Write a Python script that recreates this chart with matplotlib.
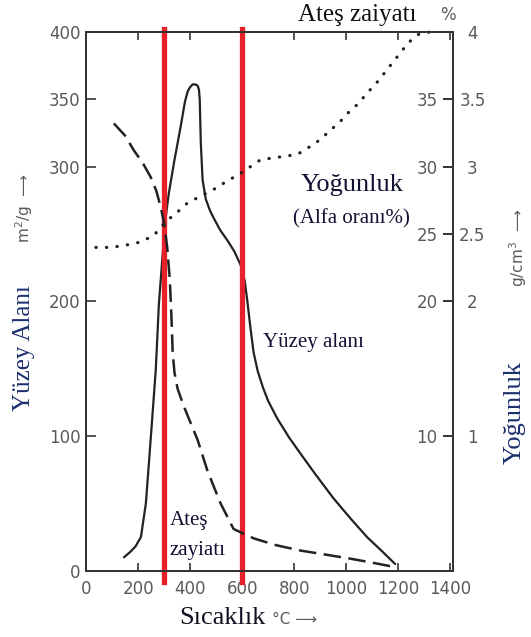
import matplotlib
matplotlib.use("Agg")
import matplotlib.pyplot as plt

# surface area (m2/g) vs temperature
temp_area = [146, 170, 190, 211, 230, 249, 268, 280, 295, 306, 318, 340, 364, 380, 391,
             400, 410, 420, 429, 434, 437, 441, 448, 460, 475, 490, 515, 544, 570, 594,
             610, 620, 632, 644, 660, 680, 700, 735, 780, 824, 880, 950, 1020, 1080, 1140, 1188]
area = [10, 14, 18, 25, 50, 99, 149, 198, 236, 262, 280, 305, 330, 348, 356,
        359, 361, 361, 360, 357, 350, 318, 290, 276, 268, 262, 253, 245, 237, 227,
        215, 200, 180, 162, 148, 136, 126, 113, 99, 87, 72, 54, 38, 25, 14, 5]

# ignition loss (%)
temp_loss = [107, 150, 184, 220, 249, 270, 287, 300, 312, 322, 328, 333, 340, 352, 376,
             395, 429, 467, 517, 567, 645, 730, 824, 920, 1015, 1100, 1180]
loss_pct = [33.2, 32.3, 31.2, 30.2, 29.2, 28.2, 27.0, 25.8, 24.0, 21.6, 19.0, 16.2, 14.7, 13.5, 12.2,
            11.3, 9.7, 7.4, 5.0, 3.1, 2.4, 1.9, 1.5, 1.2, 0.9, 0.6, 0.3]

# density (g/cm3)
temp_dens = [38, 100, 161, 210, 261, 306, 350, 390, 440, 490, 540, 594, 640, 670, 740,
             812, 862, 900, 939, 975, 1008, 1042, 1092, 1125, 1157, 1190, 1218, 1250, 1284, 1329]
density = [2.40, 2.40, 2.42, 2.44, 2.49, 2.59, 2.66, 2.73, 2.78, 2.83, 2.89, 2.95, 3.01, 3.05, 3.07,
           3.09, 3.15, 3.20, 3.27, 3.33, 3.40, 3.46, 3.57, 3.64, 3.72, 3.80, 3.87, 3.94, 3.99, 4.00]

red_temps = [300, 600]

x_ticks = [0, 200, 400, 600, 800, 1000, 1200, 1400]
left_ticks = [0, 100, 200, 300, 350, 400]
right_ticks = [1, 2, 2.5, 3, 3.5, 4]
right_labels = ["1", "2", "2.5", "3", "3.5", "4"]
pct_ticks = [10, 20, 25, 30, 35]

SERIF = "Liberation Serif"
TICKFONT = ["DejaVu Sans Condensed", "DejaVu Sans"]
GRAY = "#5a5a5a"
NAVY = "#1c2f6e"
INK = "#222222"

fig = plt.figure(figsize=(5.31, 6.37), dpi=100)
ax = fig.add_axes([0.162, 0.104, 0.691, 0.846])
ax.set_xlim(0, 1410)
ax.set_ylim(0, 400)

ax.plot(temp_area, area, color=INK, lw=1.6, solid_capstyle="round", solid_joinstyle="round")

ax2 = ax.twinx()
ax2.set_ylim(0, 4)
ax2.plot(temp_dens, density, color=INK, lw=2.3, linestyle=(0, (0.1, 3.2)),
         dash_capstyle="round", clip_on=False)

ax3 = ax.twinx()
ax3.set_ylim(0, 40)
ax3.plot(temp_loss, loss_pct, color=INK, lw=1.8, linestyle=(0, (7, 3)))

for t in red_temps:
    ax.axvline(t, ymin=-0.02, ymax=1.005, color="#e8202a", lw=3.8, clip_on=False, zorder=5)

for a in (ax, ax2, ax3):
    for s in a.spines.values():
        s.set_linewidth(1.4)
        s.set_color("#333333")

ax.set_xticks(x_ticks)
ax.set_xticklabels([str(v) for v in x_ticks], fontfamily=TICKFONT, fontsize=12, color=GRAY)
ax.set_yticks(left_ticks)
ax.set_yticklabels([str(v) for v in left_ticks], fontfamily=TICKFONT, fontsize=12, color=GRAY)
ax.tick_params(axis="x", direction="in", length=6, width=1.2, pad=7, top=True, color="#333333")
ax.tick_params(axis="y", direction="in", length=7, width=1.2, pad=4, color="#333333")

ax2.set_yticks(right_ticks)
ax2.set_yticklabels(right_labels, fontfamily=TICKFONT, fontsize=12, color=GRAY)
ax2.tick_params(axis="y", direction="in", length=7, width=1.2, pad=14, color="#333333")
for lbl in ax2.get_yticklabels():
    lbl.set_horizontalalignment("center")

ax3.set_yticks(pct_ticks)
ax3.set_yticklabels([str(v) for v in pct_ticks], fontfamily=TICKFONT, fontsize=12, color=GRAY)
ax3.tick_params(axis="y", direction="in", length=7, width=1.2, pad=-11, color="#333333")
for lbl in ax3.get_yticklabels():
    lbl.set_horizontalalignment("right")

# axis titles
fig.text(24 / 531, 1 - 348 / 637, "Yüzey Alanı", rotation=90, ha="center", va="center",
         family=SERIF, fontsize=18, color=NAVY)
fig.text(24 / 531, 1 - 208 / 637, "m$^2$/g  ⟶", rotation=90, ha="center", va="center",
         family=TICKFONT, fontsize=11, color=GRAY)
fig.text(515 / 531, 1 - 413 / 637, "Yoğunluk", rotation=90, ha="center", va="center",
         family=SERIF, fontsize=19, color=NAVY)
fig.text(518 / 531, 1 - 248 / 637, "g/cm$^3$  ⟶", rotation=90, ha="center", va="center",
         family=TICKFONT, fontsize=11, color=GRAY)
fig.text(357 / 531, 1 - 15 / 637, "Ateş zaiyatı", ha="center", va="center",
         family=SERIF, fontsize=18, color="#111111")
fig.text(448 / 531, 1 - 15 / 637, "%", ha="center", va="center",
         family=TICKFONT, fontsize=12, color=GRAY)
fig.text(222 / 531, 1 - 618 / 637, "Sıcaklık", ha="center", va="center",
         family=SERIF, fontsize=19, color="#111122")
fig.text(272 / 531, 1 - 620 / 637, "°C ⟶", ha="left", va="center",
         family=TICKFONT, fontsize=11, color=GRAY)

# in-plot labels
fig.text(352 / 531, 1 - 185 / 637, "Yoğunluk", ha="center", va="center",
         family=SERIF, fontsize=19, color="#111133")
fig.text(351 / 531, 1 - 219 / 637, "(Alfa oranı%)", ha="center", va="center",
         family=SERIF, fontsize=15, color="#111133")
fig.text(263 / 531, 1 - 342 / 637, "Yüzey alanı", ha="left", va="center",
         family=SERIF, fontsize=15, color="#111133")
fig.text(170 / 531, 1 - 520 / 637, "Ateş", ha="left", va="center",
         family=SERIF, fontsize=15, color="#111133")
fig.text(170 / 531, 1 - 550 / 637, "zayiatı", ha="left", va="center",
         family=SERIF, fontsize=15, color="#111133")

fig.savefig("out.png", dpi=100)
